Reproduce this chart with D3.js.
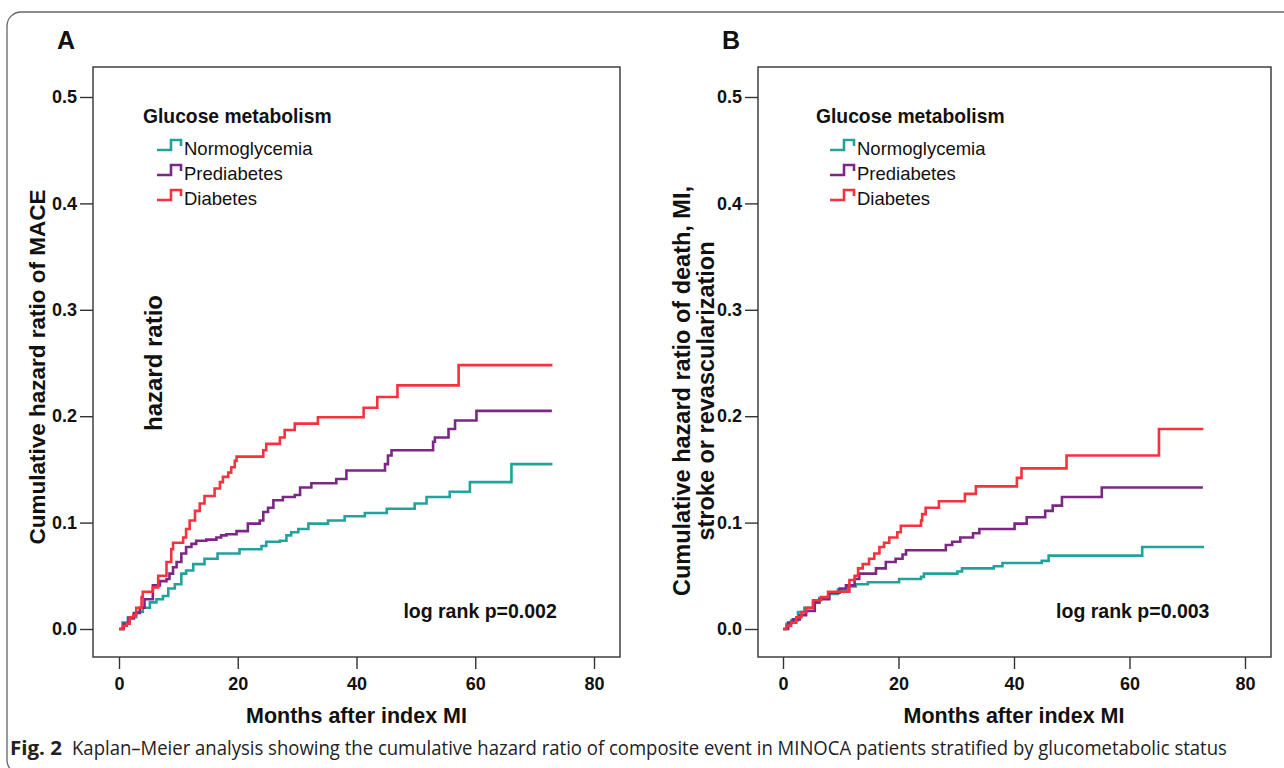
<!DOCTYPE html>
<html>
<head>
<meta charset="utf-8">
<script src="https://cdn.jsdelivr.net/npm/d3@7"></script>
<style>
  body { margin: 0; background: #fff; }
  svg { display: block; font-family: "Liberation Sans", Arial, sans-serif; }
</style>
</head>
<body>
<svg id="chart" width="1284" height="768"></svg>
<script>
// step points [month, cumulative hazard]
const groups = ["Normoglycemia", "Prediabetes", "Diabetes"]
const colors = ["#21a39c", "#7b2884", "#f5323e"]
const xTicks = [0, 20, 40, 60, 80]
const yTicks = [0, 0.1, 0.2, 0.3, 0.4, 0.5]

const aNormo = [[0,0],[0.6,0.006],[1.5,0.011],[2.9,0.016],[4.0,0.020],[5.2,0.025],[6.3,0.028],[7.4,0.031],[8.3,0.038],[9.4,0.042],[10.5,0.052],[11.3,0.055],[12.5,0.061],[14.4,0.066],[16.6,0.071],[20.3,0.075],[24.0,0.078],[24.8,0.082],[27.1,0.083],[28.2,0.088],[29.0,0.091],[30.2,0.094],[31.9,0.099],[35.2,0.102],[38.0,0.106],[41.4,0.109],[45.1,0.113],[49.8,0.118],[51.8,0.124],[55.7,0.129],[59.1,0.138],[66.1,0.155],[73.0,0.155]]
const aPre = [[0,0],[0.8,0.005],[1.6,0.010],[2.5,0.015],[3.5,0.020],[4.3,0.028],[5.7,0.041],[6.9,0.045],[8.0,0.047],[8.5,0.052],[9.1,0.058],[9.7,0.063],[10.5,0.071],[11.3,0.077],[12.2,0.080],[13.0,0.083],[14.7,0.084],[16.4,0.086],[17.2,0.088],[18.1,0.089],[19.8,0.092],[21.7,0.099],[23.7,0.102],[24.3,0.110],[25.1,0.114],[26.0,0.121],[27.6,0.124],[29.6,0.126],[30.5,0.133],[32.4,0.137],[36.6,0.141],[38.3,0.149],[44.8,0.155],[45.3,0.163],[45.9,0.168],[52.9,0.176],[53.2,0.180],[55.5,0.188],[56.6,0.196],[60.2,0.205],[72.9,0.205]]
const aDiab = [[0,0],[0.7,0.003],[1.3,0.005],[1.8,0.011],[2.4,0.013],[2.9,0.020],[3.8,0.030],[4.0,0.035],[5.7,0.039],[6.6,0.050],[8.0,0.063],[8.8,0.075],[9.1,0.081],[10.8,0.086],[11.3,0.094],[11.9,0.102],[12.8,0.111],[13.6,0.118],[14.4,0.125],[16.1,0.132],[17.0,0.138],[17.5,0.143],[18.4,0.147],[18.9,0.152],[19.5,0.158],[19.8,0.162],[24.3,0.168],[24.8,0.174],[27.1,0.180],[27.9,0.187],[29.6,0.193],[33.5,0.199],[41.2,0.208],[43.5,0.218],[46.9,0.229],[57.2,0.248],[73.0,0.248]]

const bNormo = [[0,0],[0.6,0.005],[1.4,0.008],[2.6,0.016],[3.7,0.020],[5.2,0.025],[6.3,0.029],[8.0,0.033],[9.5,0.037],[11.2,0.040],[12.6,0.042],[14.7,0.044],[20.1,0.047],[23.9,0.049],[24.4,0.052],[30.2,0.054],[31.0,0.057],[36.5,0.059],[38.0,0.062],[44.8,0.064],[46.0,0.069],[62.2,0.077],[72.9,0.077]]
const bPre = [[0,0],[0.9,0.006],[1.7,0.009],[2.9,0.013],[4.0,0.017],[5.5,0.025],[6.3,0.028],[8.0,0.034],[9.8,0.038],[10.9,0.041],[12.4,0.047],[13.2,0.052],[16.1,0.057],[17.8,0.063],[19.5,0.066],[20.7,0.070],[21.3,0.074],[28.2,0.079],[29.3,0.082],[30.7,0.086],[32.9,0.090],[34.0,0.094],[40.1,0.099],[42.2,0.105],[45.4,0.111],[46.7,0.116],[48.3,0.124],[55.2,0.133],[72.7,0.133]]
const bDiab = [[0,0],[0.6,0.003],[1.4,0.006],[2.3,0.011],[3.2,0.016],[4.0,0.020],[5.2,0.027],[6.6,0.030],[7.8,0.035],[11.5,0.046],[12.4,0.050],[13.0,0.057],[13.8,0.061],[14.9,0.066],[15.8,0.071],[16.7,0.077],[17.5,0.081],[18.4,0.086],[19.8,0.091],[20.4,0.097],[23.9,0.102],[24.1,0.108],[24.7,0.114],[27.0,0.120],[31.5,0.127],[33.4,0.134],[40.5,0.142],[41.3,0.151],[49.1,0.163],[65.1,0.188],[72.8,0.188]]

const svg = d3.select("#chart")

// outer rounded frame
svg.append("rect")
  .attr("x", 7).attr("y", 12)
  .attr("width", 1320).attr("height", 762)
  .attr("rx", 14)
  .attr("fill", "none").attr("stroke", "#666").attr("stroke-width", 1.3)

const panels = [
  { letter: "A", box: [93, 620], x0: 119, x80: 594, series: [aNormo, aPre, aDiab], logrank: "log rank p=0.002",
    yLabel: ["Cumulative hazard ratio of MACE"], yLabelPos: [45, 367], yLabelSize: 22.5, legendX: 143 },
  { letter: "B", box: [758, 1271], x0: 783, x80: 1245, series: [bNormo, bPre, bDiab], logrank: "log rank p=0.003",
    yLabel: ["Cumulative hazard ratio of death, MI,", "stroke or revascularization"], yLabelPos: [690, 391], yLabelSize: 23.5, legendX: 816 }
]

const boxTop = 67, boxBottom = 657

panels.forEach(p => {
  const x = d3.scaleLinear().domain([0, 80]).range([p.x0, p.x80])
  const y = d3.scaleLinear().domain([0, 0.5]).range([629, 97])
  const g = svg.append("g")

  // curves
  const line = d3.line()
    .x(d => x(d[0]))
    .y(d => y(d[1]))
    .curve(d3.curveStepAfter)
  p.series.forEach((s, i) => {
    g.append("path")
      .attr("d", line(s))
      .attr("fill", "none")
      .attr("stroke", colors[i])
      .attr("stroke-width", 2.6)
  })

  // plot box
  g.append("rect")
    .attr("x", p.box[0]).attr("y", boxTop)
    .attr("width", p.box[1] - p.box[0]).attr("height", boxBottom - boxTop)
    .attr("fill", "none").attr("stroke", "#333").attr("stroke-width", 1.4)

  const yAxis = g.append("g")
    .attr("transform", `translate(${p.box[0]},0)`)
    .call(d3.axisLeft(y).tickValues(yTicks).tickFormat(d3.format(".1f")).tickSize(13).tickPadding(3))
  const xAxis = g.append("g")
    .attr("transform", `translate(0,${boxBottom})`)
    .call(d3.axisBottom(x).tickValues(xTicks).tickSize(12).tickPadding(8))
  ;[yAxis, xAxis].forEach(a => {
    a.select(".domain").remove()
    a.selectAll(".tick line").attr("stroke", "#333").attr("stroke-width", 1.4)
    a.selectAll(".tick text")
      .attr("fill", "#111")
      .style("font-family", "Liberation Sans, Arial, sans-serif")
      .style("font-size", "18px").style("font-weight", "bold")
  })

  // panel letter
  g.append("text")
    .attr("x", p.box[0] - 36).attr("y", 49)
    .attr("font-size", 25).attr("font-weight", "bold")
    .attr("fill", "#111")
    .text(p.letter)

  // x title
  const cx = (x(0) + x(80)) / 2
  g.append("text")
    .attr("x", cx).attr("y", 723)
    .attr("text-anchor", "middle")
    .attr("font-size", 21.5).attr("font-weight", "bold")
    .attr("fill", "#111")
    .text("Months after index MI")

  // y title
  const yl = g.append("text")
    .attr("transform", `translate(${p.yLabelPos[0]},${p.yLabelPos[1]}) rotate(-90)`)
    .attr("text-anchor", "middle")
    .attr("font-size", p.yLabelSize).attr("font-weight", "bold")
    .attr("fill", "#111")
  p.yLabel.forEach((t, i) => {
    yl.append("tspan").attr("x", 0).attr("dy", i === 0 ? 0 : 24).text(t)
  })

  // legend
  const lg = g.append("g")
  lg.append("text")
    .attr("x", p.legendX).attr("y", 123)
    .attr("font-size", 19.3).attr("font-weight", "bold")
    .attr("fill", "#111")
    .text("Glucose metabolism")
  groups.forEach((name, i) => {
    const cy = 148 + i * 25
    const sx = p.legendX + 14
    lg.append("path")
      .attr("d", `M${sx},${cy + 2}H${sx + 14}V${cy - 8}H${sx + 24}V${cy - 2}`)
      .attr("fill", "none").attr("stroke", colors[i]).attr("stroke-width", 2.6)
    lg.append("text")
      .attr("x", sx + 27).attr("y", cy + 6.5)
      .attr("font-size", 18.5)
      .attr("fill", "#111")
      .text(name)
  })

  // log rank
  g.append("text")
    .attr("x", p.box[0] + (p.box[1] - p.box[0]) * 0.88).attr("y", 618)
    .attr("text-anchor", "end")
    .attr("font-size", 19.5).attr("font-weight", "bold")
    .attr("fill", "#111")
    .text(p.logrank)
})

// "hazard ratio" stray label inside panel A
svg.append("text")
  .attr("transform", "translate(162,431) rotate(-90)")
  .attr("font-size", 24).attr("font-weight", "bold")
  .attr("fill", "#111")
  .text("hazard ratio")

// caption, squeezed horizontally to the width it has in the figure
const fitText = (sel, x, y, width) => {
  const w = sel.node().getComputedTextLength()
  sel.attr("transform", `translate(${x},${y}) scale(${width / w},1)`)
}
const figLabel = svg.append("text")
  .style("font-family", "Open Sans, Noto Sans, sans-serif")
  .attr("font-size", 20).attr("font-weight", "bold")
  .attr("fill", "#222")
  .text("Fig. 2")
fitText(figLabel, 10, 755, 52)
const caption = svg.append("text")
  .style("font-family", "Open Sans, Noto Sans, sans-serif")
  .attr("font-size", 20)
  .attr("fill", "#222")
  .text("Kaplan–Meier analysis showing the cumulative hazard ratio of composite event in MINOCA patients stratified by glucometabolic status")
fitText(caption, 72, 755, 1156)
</script>
</body>
</html>
